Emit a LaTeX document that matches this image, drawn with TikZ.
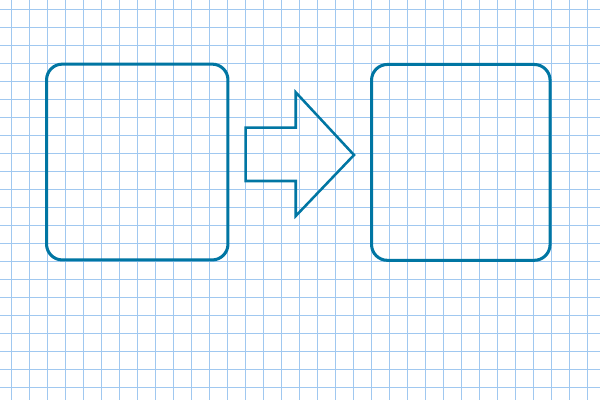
\documentclass[tikz,border=0pt]{standalone}
\usepackage{tikz}
\definecolor{inkblue}{RGB}{0,118,163}
\definecolor{gridblue}{RGB}{160,200,240}

\begin{document}
\begin{tikzpicture}[x=0.5cm,y=0.5cm]
\tikzset{box/.style={draw=inkblue,line width=2.4pt,rounded corners=0.44cm,minimum width=5.04cm,minimum height=5.44cm,inner sep=0pt}}
\useasboundingbox (0,0) rectangle (33.333,22.222);
\clip (0,0) rectangle (33.333,22.222);
\fill[white] (0,0) rectangle (33.333,22.222);
\draw[gridblue,line width=0.8pt,shift={(0.639,0.706)},step=0.5cm] (-1,-1) grid (33,22);

\node (1) at (7.625,13.22) [box] {};
\node (2) at (25.6,13.2) [box,minimum width=4.96cm] {};

\coordinate (a1) at (13.65,15.128);
\coordinate (a2) at (16.43,15.128);
\coordinate (a3) at (16.43,17.094);
\coordinate (a4) at (19.667,13.611);
\coordinate (a5) at (16.43,10.222);
\coordinate (a6) at (16.43,12.167);
\coordinate (a7) at (13.65,12.167);
\draw[inkblue,line width=2pt,line join=miter] (a1) -- (a2) -- (a3) -- (a4) -- (a5) -- (a6) -- (a7) -- cycle;
\end{tikzpicture}
\end{document}
